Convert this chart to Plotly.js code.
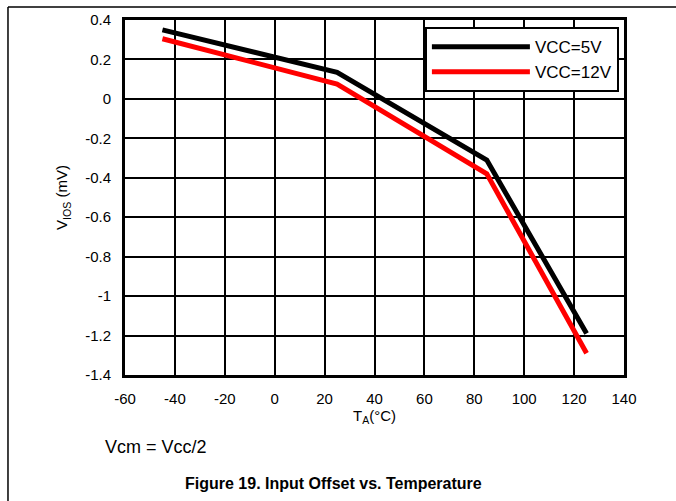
<!DOCTYPE html>
<html>
<head>
<meta charset="utf-8">
<script src="https://cdn.plot.ly/plotly-3.0.1.min.js"></script>
<style>html,body{margin:0;padding:0;background:#fff;}#chart{width:676px;height:501px;}</style>
</head>
<body>
<div id="chart"></div>
<script>
const temps = [-45, 25, 85, 125];
const vos5V = [0.35, 0.135, -0.31, -1.19];
const vos12V = [0.305, 0.075, -0.38, -1.29];
const seriesNames = ["VCC=5V", "VCC=12V"];
const xTickVals = [-60, -40, -20, 0, 20, 40, 60, 80, 100, 120, 140];
const xTickText = ["-60", "-40", "-20", "0", "20", "40", "60", "80", "100", "120", "140"];
const yTickVals = [-1.4, -1.2, -1, -0.8, -0.6, -0.4, -0.2, 0, 0.2, 0.4];
const yTickText = ["-1.4", "-1.2", "-1", "-0.8", "-0.6", "-0.4", "-0.2", "0", "0.2", "0.4"];
const xTitle = "T<sub>A</sub>(°C)";
const yTitle = "V<sub>IOS</sub> (mV)";
const noteText = "Vcm = Vcc/2";
const figTitle = "<b>Figure 19. Input Offset vs. Temperature</b>";

const FONT = "Liberation Sans, Arial, sans-serif";
const traces = [
  {x: temps, y: vos5V, name: seriesNames[0], mode: "lines", line: {color: "#000000", width: 5}},
  {x: temps, y: vos12V, name: seriesNames[1], mode: "lines", line: {color: "#ff0000", width: 5}}
];
const axisCommon = {
  showgrid: true, gridcolor: "#000000", gridwidth: 2,
  showline: true, linecolor: "#000000", linewidth: 3, mirror: true,
  zeroline: false, ticks: "", ticklabelstandoff: 8, tickmode: "array",
  tickfont: {family: FONT, size: 15, color: "#000"},
  fixedrange: true
};
const layout = {
  width: 676, height: 501,
  margin: {l: 125, r: 52, t: 20, b: 126},
  paper_bgcolor: "#fff", plot_bgcolor: "#fff",
  font: {family: FONT, color: "#000"},
  showlegend: true,
  legend: {x: 0.601, y: 0.98, xanchor: "left", yanchor: "top",
           bgcolor: "#fff", bordercolor: "#000", borderwidth: 2,
           font: {family: FONT, size: 17, color: "#000"}, itemwidth: 98, tracegroupgap: 0},
  xaxis: Object.assign({}, axisCommon, {range: [-60, 140], tickvals: xTickVals, ticktext: xTickText,
    title: {text: xTitle, font: {family: FONT, size: 15}, standoff: 4}}),
  yaxis: Object.assign({}, axisCommon, {range: [-1.4, 0.4], tickvals: yTickVals, ticktext: yTickText,
    title: {text: yTitle, font: {family: FONT, size: 15}, standoff: 14}}),
  shapes: [
    {type: "line", xref: "paper", yref: "paper", x0: -0.2345, x1: 1.2, y0: 1.0366, y1: 1.0366, line: {color: "#000", width: 1.5}},
    {type: "line", xref: "paper", yref: "paper", x0: -0.2345, x1: -0.2345, y0: 1.0366, y1: -0.4, line: {color: "#000", width: 1.5}}
  ],
  annotations: [
    {text: noteText, xref: "paper", yref: "paper", x: (103 - 125) / 499, y: (375 - 447) / 355,
     xanchor: "left", yanchor: "middle", showarrow: false, font: {family: FONT, size: 18, color: "#000"}},
    {text: figTitle, xref: "paper", yref: "paper", x: (333 - 125) / 499, y: (375 - 483) / 355,
     xanchor: "center", yanchor: "middle", showarrow: false, font: {family: FONT, size: 16, color: "#000"}}
  ]
};
Plotly.newPlot("chart", traces, layout, {displayModeBar: false, staticPlot: true});
</script>
</body>
</html>
